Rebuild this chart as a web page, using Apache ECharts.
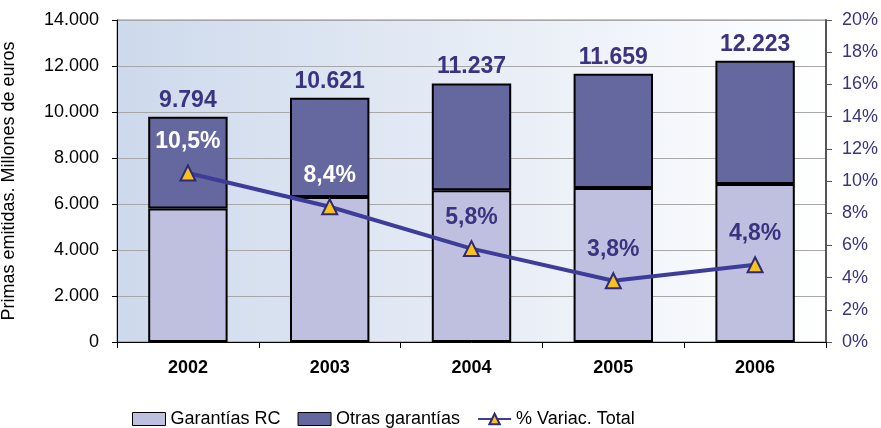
<!DOCTYPE html>
<html>
<head>
<meta charset="utf-8">
<script src="https://cdn.jsdelivr.net/npm/echarts@6/dist/echarts.min.js"></script>
<style>
  html, body { margin: 0; padding: 0; background: #fff; }
  #chart { width: 881px; height: 428px; }
</style>
</head>
<body>
<div id="chart"></div>
<script>
// datos
const years = ['2002', '2003', '2004', '2005', '2006'];
const totales = [9794, 10621, 11237, 11659, 12223];
const garantiasRC = [5800, 6300, 6600, 6700, 6870];
const otrasGarantias = [3994, 4321, 4637, 4959, 5353];
const variacion = [10.5, 8.4, 5.8, 3.8, 4.8];
const leftTicks = [0, 2000, 4000, 6000, 8000, 10000, 12000, 14000];

const fmtMiles = v => String(v).replace(/\B(?=(\d{3})+(?!\d))/g, '.');
const pctColors = ['#ffffff', '#ffffff', '#3a3480', '#3a3480', '#3a3480'];

const chart = echarts.init(document.getElementById('chart'));
chart.setOption({
  animation: false,
  textStyle: { fontFamily: 'Liberation Sans, Arial, sans-serif' },
  grid: {
    left: 117, right: 55, top: 20, bottom: 86,
    outerBoundsMode: 'none',
    show: true,
    borderColor: '#888',
    borderWidth: 1,
    backgroundColor: new echarts.graphic.LinearGradient(0, 0, 1, 0, [
      { offset: 0, color: '#cdd9ec' },
      { offset: 1, color: '#ffffff' }
    ])
  },
  legend: {
    top: 405,
    left: 127,
    itemGap: 17,
    itemWidth: 33,
    itemHeight: 13,
    textStyle: { fontSize: 18, color: '#000' },
    data: [
      { name: 'Garantías RC', icon: 'rect', itemStyle: { borderColor: '#000', borderWidth: 1 } },
      { name: 'Otras garantías', icon: 'rect', itemStyle: { borderColor: '#000', borderWidth: 1 } },
      { name: '% Variac. Total' }
    ]
  },
  xAxis: {
    type: 'category',
    data: years,
    axisLine: { lineStyle: { color: '#000' } },
    axisTick: { show: true, length: 6, lineStyle: { color: '#000' } },
    axisLabel: { fontSize: 18, fontWeight: 'bold', color: '#000', margin: 17 }
  },
  yAxis: [
    {
      type: 'value',
      min: leftTicks[0],
      max: leftTicks[leftTicks.length - 1],
      interval: 2000,
      name: 'Primas emitidas. Millones de euros',
      nameLocation: 'middle',
      nameGap: 99,
      nameTextStyle: { fontSize: 18, color: '#000' },
      axisLine: { show: true, lineStyle: { color: '#000' } },
      axisTick: { show: true, length: 5, lineStyle: { color: '#000' } },
      axisLabel: { fontSize: 18, color: '#000', margin: 18, formatter: v => fmtMiles(v) },
      splitLine: { lineStyle: { color: '#a8a8a8', width: 1 } }
    },
    {
      type: 'value',
      min: 0,
      max: 20,
      interval: 2,
      position: 'right',
      axisLine: { show: true, lineStyle: { color: '#555', width: 2 } },
      axisTick: { show: true, length: 6, lineStyle: { color: '#555' } },
      axisLabel: { fontSize: 18, color: '#3a3480', margin: 16, formatter: '{value}%' },
      splitLine: { show: false }
    }
  ],
  series: [
    {
      name: 'Garantías RC',
      type: 'bar',
      stack: 'total',
      barWidth: '56%',
      data: garantiasRC,
      itemStyle: { color: '#bfc0e0', borderColor: '#000', borderWidth: 2 }
    },
    {
      name: 'Otras garantías',
      type: 'bar',
      stack: 'total',
      data: otrasGarantias,
      itemStyle: { color: '#65679f', borderColor: '#000', borderWidth: 2 },
      label: {
        show: true,
        position: 'top',
        distance: 5,
        fontSize: 23,
        fontWeight: 'bold',
        color: '#3a3480',
        formatter: p => fmtMiles(totales[p.dataIndex])
      }
    },
    {
      name: '% Variac. Total',
      type: 'line',
      yAxisIndex: 1,
      data: variacion.map((v, i) => ({
        value: v,
        label: { color: pctColors[i] }
      })),
      symbol: 'triangle',
      symbolSize: 15,
      lineStyle: { color: '#3d3d99', width: 4 },
      itemStyle: { color: '#f7c21c', borderColor: '#2e2a78', borderWidth: 2 },
      label: {
        show: true,
        position: 'top',
        distance: 11,
        fontSize: 23,
        fontWeight: 'bold',
        formatter: p => String(p.value).replace('.', ',') + '%'
      },
      z: 5
    }
  ]
});
</script>
</body>
</html>
